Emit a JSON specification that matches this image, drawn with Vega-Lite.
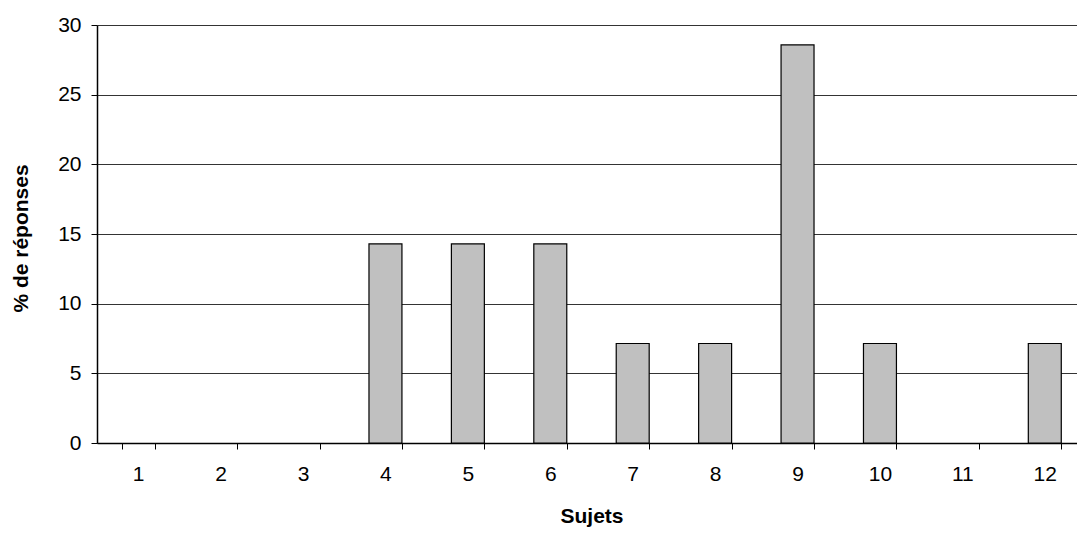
{
  "$schema": "https://vega.github.io/schema/vega-lite/v6.json",
  "autosize": "none",
  "width": 989,
  "height": 418,
  "padding": {"left": 97, "top": 25, "right": 0, "bottom": 90},
  "background": "white",
  "config": {"view": {"stroke": null}, "font": "Liberation Sans"},
  "data": {"values": [
    {"sujet": "1", "pct": 0},
    {"sujet": "2", "pct": 0},
    {"sujet": "3", "pct": 0},
    {"sujet": "4", "pct": 14.29},
    {"sujet": "5", "pct": 14.29},
    {"sujet": "6", "pct": 14.29},
    {"sujet": "7", "pct": 7.14},
    {"sujet": "8", "pct": 7.14},
    {"sujet": "9", "pct": 28.57},
    {"sujet": "10", "pct": 7.14},
    {"sujet": "11", "pct": 0},
    {"sujet": "12", "pct": 7.14}
  ]},
  "mark": {"type": "bar", "fill": "#c0c0c0", "stroke": "#000", "strokeWidth": 1.2},
  "encoding": {
    "x": {
      "field": "sujet", "type": "ordinal", "sort": null,
      "scale": {"paddingInner": 0.6, "paddingOuter": 0.3},
      "axis": {
        "title": "Sujets", "titleFont": "Liberation Sans", "titleFontSize": 21, "titleFontWeight": "bold", "titleColor": "#000",
        "titleY": 79, "titleBaseline": "alphabetic",
        "labelAngle": 0, "labelFont": "Liberation Sans", "labelFontSize": 21, "labelColor": "#000",
        "labelBaseline": "alphabetic", "labelPadding": 31,
        "tickBand": "extent", "tickSize": 6, "tickColor": "#000", "tickWidth": 1,
        "domainColor": "#000", "domainWidth": 1.5, "grid": false
      }
    },
    "y": {
      "field": "pct", "type": "quantitative",
      "scale": {"domain": [0, 30], "nice": false},
      "axis": {
        "title": "% de réponses", "titleFont": "Liberation Sans", "titleFontSize": 21, "titleFontWeight": "bold", "titleColor": "#000",
        "titleX": -76, "titleY": 213, "titleBaseline": "middle", "titleAngle": -90,
        "values": [0, 5, 10, 15, 20, 25, 30],
        "labelFont": "Liberation Sans", "labelFontSize": 21, "labelColor": "#000", "labelPadding": 10,
        "tickSize": 6, "tickColor": "#000", "tickWidth": 1,
        "domainColor": "#000", "domainWidth": 1.5,
        "grid": true, "gridColor": "#000", "gridWidth": 0.8
      }
    },
    "strokeOpacity": {
      "condition": {"test": "datum.pct == 0", "value": 0},
      "value": 1
    }
  }
}
